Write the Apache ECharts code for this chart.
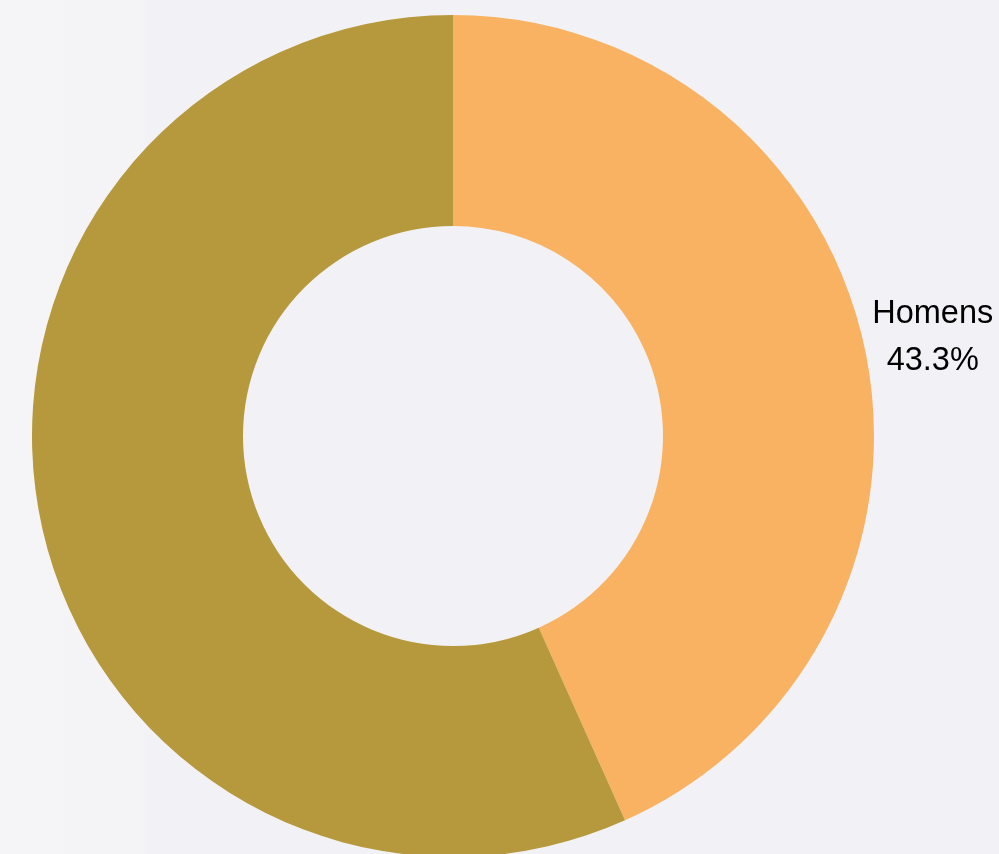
<!DOCTYPE html>
<html>
<head>
<meta charset="utf-8">
<script src="https://cdn.jsdelivr.net/npm/echarts@6/dist/echarts.min.js"></script>
<style>
html,body{margin:0;padding:0;background:#f2f2f6;}
#chart{width:999px;height:854px;}
</style>
</head>
<body>
<div id="chart"></div>
<script>
const categories = ['Homens', 'Mulheres'];
const values = [43.3, 56.7];
const colors = ['#F8B261', '#B6993C'];
const showLabel = [true, false];

const chart = echarts.init(document.getElementById('chart'), null, {renderer: 'canvas'});
chart.setOption({
  backgroundColor: {
    type: 'linear', x: 0, y: 0, x2: 1, y2: 0,
    colorStops: [
      {offset: 0, color: '#f5f5f8'},
      {offset: 0.14, color: '#f4f4f7'},
      {offset: 0.15, color: '#f2f2f6'},
      {offset: 1, color: '#f2f2f6'}
    ]
  },
  animation: false,
  series: [{
    type: 'pie',
    center: [453, 436],
    radius: [210, 421],
    startAngle: 90,
    clockwise: true,
    percentPrecision: 1,
    avoidLabelOverlap: false,
    label: {
      position: 'outside',
      formatter: '{a|{b}}\n{a|{d}%}',
      color: '#000',
      rich: {
        a: {width: 124, align: 'center', fontSize: 32.5, lineHeight: 47, fontFamily: 'Liberation Sans, Arial, sans-serif', color: '#000'}
      }
    },
    labelLine: {show: false, length: 0, length2: 0},
    labelLayout: {dx: 1, dy: -11},
    data: categories.map((c, i) => ({
      name: c, value: values[i],
      itemStyle: {color: colors[i]},
      label: {show: showLabel[i]}
    }))
  }]
});
</script>
</body>
</html>
